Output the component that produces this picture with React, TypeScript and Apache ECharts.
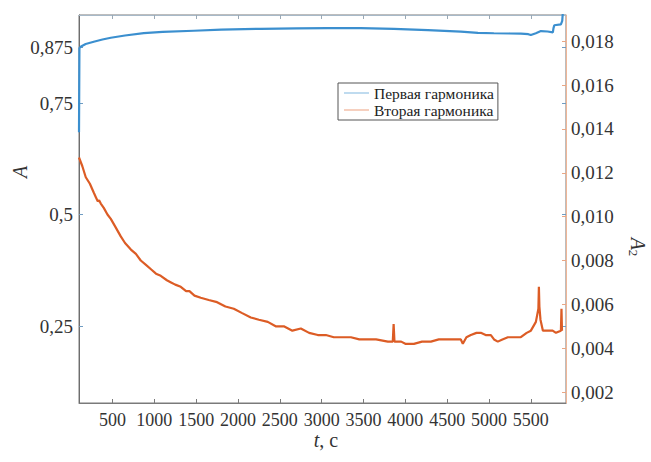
import React, { useEffect, useRef } from "react";
import * as echarts from "echarts";

// First harmonic A (left axis)
const blueT = [100, 105, 130, 180, 276, 380, 480, 650, 874, 1100, 1472, 1800, 2273, 2700, 3074, 3468, 3862, 4269, 4663, 4867, 5058, 5250, 5381, 5470, 5500, 5560, 5620, 5700, 5763, 5770, 5780, 5859, 5875, 5885];
const blueA = [0.685, 0.874, 0.878, 0.883, 0.888, 0.893, 0.897, 0.902, 0.9075, 0.91, 0.9127, 0.915, 0.917, 0.918, 0.9187, 0.9187, 0.917, 0.914, 0.9105, 0.908, 0.907, 0.9065, 0.906, 0.905, 0.903, 0.907, 0.912, 0.911, 0.909, 0.918, 0.925, 0.927, 0.935, 0.96];

// Second harmonic A2 (right axis)
const orangeT = [100, 140, 181, 230, 276, 300, 324, 340, 360, 396, 440, 480, 540, 599, 650, 720, 780, 838, 900, 960, 1020, 1077, 1150, 1200, 1250, 1316, 1380, 1420, 1480, 1555, 1650, 1750, 1850, 1950, 2050, 2153, 2250, 2356, 2450, 2548, 2650, 2751, 2850, 2954, 3050, 3145, 3250, 3349, 3450, 3552, 3650, 3791, 3850, 3860, 3870, 3950, 4000, 4102, 4200, 4305, 4400, 4508, 4600, 4663, 4687, 4730, 4783, 4850, 4902, 4960, 5022, 5060, 5105, 5160, 5225, 5300, 5380, 5450, 5500, 5545, 5560, 5590, 5596, 5602, 5615, 5644, 5704, 5760, 5800, 5859, 5866, 5872];
const orangeA2 = [0.0127, 0.0123, 0.0118, 0.0115, 0.0111, 0.0109, 0.0107, 0.01075, 0.0106, 0.0104, 0.0101, 0.0099, 0.0095, 0.0091, 0.0088, 0.0085, 0.0083, 0.008, 0.0078, 0.0076, 0.0074, 0.0073, 0.0071, 0.007, 0.0069, 0.0068, 0.0066, 0.0066, 0.0064, 0.0063, 0.0062, 0.0061, 0.0059, 0.0058, 0.0056, 0.0054, 0.0053, 0.0052, 0.005, 0.005, 0.0048, 0.0049, 0.0047, 0.0046, 0.0046, 0.0045, 0.0045, 0.0045, 0.0044, 0.0044, 0.0044, 0.0043, 0.0043, 0.0051, 0.0043, 0.0043, 0.0042, 0.0042, 0.0043, 0.0043, 0.0044, 0.0044, 0.0044, 0.0044, 0.0042, 0.0045, 0.0046, 0.0047, 0.0047, 0.0046, 0.0046, 0.0044, 0.0043, 0.0044, 0.0045, 0.0045, 0.0045, 0.0047, 0.0048, 0.0051, 0.0052, 0.0058, 0.0068, 0.0059, 0.0053, 0.0048, 0.0048, 0.0048, 0.0047, 0.0048, 0.0058, 0.0048];

const xTicks = [500, 1000, 1500, 2000, 2500, 3000, 3500, 4000, 4500, 5000, 5500];
const leftTicks = [0.25, 0.5, 0.75, 0.875];
const rightTicks = [0.002, 0.004, 0.006, 0.008, 0.01, 0.012, 0.014, 0.016, 0.018];
const seriesNames = ["Первая гармоника", "Вторая гармоника"];

const FONT = "'Liberation Serif', 'Times New Roman', serif";
const LEFT_MIN = 0.0774;
const LEFT_MAX = 0.948;

export default function App() {
  const ref = useRef<HTMLDivElement>(null);
  useEffect(() => {
    if (!ref.current) return;
    const chart = echarts.init(ref.current, null, { renderer: "svg" });
    const blueData = blueT.map((t, i) => [t, blueA[i]]);
    const orangeData = orangeT.map((t, i) => [t, orangeA2[i]]);
    chart.setOption({
      animation: false,
      backgroundColor: "#fff",
      textStyle: { fontFamily: FONT },
      grid: {
        left: 79,
        right: 85,
        top: 15,
        bottom: 59,
        containLabel: false,
        show: true,
        borderColor: "#7a7a7a",
        borderWidth: 1,
        backgroundColor: "transparent",
      },
      legend: {
        orient: "vertical",
        left: 338,
        top: 83,
        padding: [2, 4, 2, 6],
        itemGap: 1,
        itemWidth: 25,
        itemHeight: 1,
        icon: "rect",
        borderColor: "#555",
        borderWidth: 1,
        backgroundColor: "#fff",
        textStyle: { fontFamily: FONT, fontSize: 15.5, color: "#222", lineHeight: 15 },
        data: [
          { name: seriesNames[0], itemStyle: { color: "#7fb6df" } },
          { name: seriesNames[1], itemStyle: { color: "#eda07e" } },
        ],
      },
      xAxis: [
        {
          type: "value",
          min: 100,
          max: 5920,
          position: "bottom",
          axisLine: { show: true, onZero: false, lineStyle: { color: "#7a7a7a", width: 1 } },
          axisTick: { show: true, inside: true, length: 4, customValues: xTicks, lineStyle: { color: "#7a7a7a" } },
          axisLabel: { customValues: xTicks, fontFamily: FONT, fontSize: 18, color: "#333", margin: 8, formatter: (v: number) => String(v) },
          splitLine: { show: false },
        },
        {
          type: "value",
          min: 100,
          max: 5920,
          position: "top",
          axisLine: { show: true, onZero: false, lineStyle: { color: "#a7b9c8", width: 1 } },
          axisTick: { show: true, inside: true, length: 4, customValues: xTicks, lineStyle: { color: "#9aa9b6" } },
          axisLabel: { show: false },
          splitLine: { show: false },
        },
      ],
      yAxis: [
        {
          type: "value",
          min: LEFT_MIN,
          max: LEFT_MAX,
          position: "left",
          axisLine: { show: true, onZero: false, lineStyle: { color: "#6e6e6e", width: 1 } },
          axisTick: { show: true, inside: true, length: 4, customValues: leftTicks, lineStyle: { color: "#6f9cc2" } },
          axisLabel: { customValues: leftTicks, fontFamily: FONT, fontSize: 19, color: "#333", margin: 6, formatter: (v: number) => String(v).replace(".", ",") },
          splitLine: { show: false },
        },
        {
          type: "value",
          min: 0.0015,
          max: 0.0192,
          position: "right",
          axisLine: { show: true, onZero: false, lineStyle: { color: "#efb697", width: 1 } },
          axisTick: { show: true, inside: true, length: 4, customValues: rightTicks, lineStyle: { color: "#e9a684" } },
          axisLabel: { customValues: rightTicks, fontFamily: FONT, fontSize: 19, color: "#333", margin: 5, formatter: (v: number) => v.toFixed(3).replace(".", ",") },
          splitLine: { show: false },
        },
        {
          type: "value",
          min: LEFT_MIN,
          max: LEFT_MAX,
          position: "right",
          offset: 0,
          axisLine: { show: false, onZero: false },
          axisTick: { show: true, inside: true, length: 4, customValues: leftTicks, lineStyle: { color: "#6f9cc2" } },
          axisLabel: { show: false },
          splitLine: { show: false },
        },
      ],
      series: [
        {
          name: seriesNames[0],
          type: "line",
          xAxisIndex: 0,
          yAxisIndex: 0,
          data: blueData,
          showSymbol: false,
          symbol: "none",
          clip: true,
          color: "#3b8fcf",
          lineStyle: { color: "#3b8fcf", width: 2.2 },
        },
        {
          name: seriesNames[1],
          type: "line",
          xAxisIndex: 0,
          yAxisIndex: 1,
          data: orangeData,
          showSymbol: false,
          symbol: "none",
          clip: true,
          color: "#dc5c25",
          lineStyle: { color: "#dc5c25", width: 2.2 },
        },
      ],
      graphic: [
        {
          type: "text",
          x: 20,
          y: 172,
          rotation: Math.PI / 2,
          style: {
            text: "A",
            font: `italic 20px ${FONT}`,
            fill: "#333",
            align: "center",
            verticalAlign: "middle",
            textAlign: "center",
            textVerticalAlign: "middle",
          },
        },
        {
          type: "text",
          x: 638,
          y: 247,
          rotation: -Math.PI / 2,
          style: {
            text: "{a|A}{s|2}",
            fill: "#333",
            align: "center",
            verticalAlign: "middle",
            textAlign: "center",
            textVerticalAlign: "middle",
            rich: {
              a: { fontFamily: FONT, fontStyle: "italic", fontSize: 20, lineHeight: 22, fill: "#333", color: "#333" },
              s: { fontFamily: FONT, fontSize: 13, lineHeight: 13, verticalAlign: "bottom", fill: "#333", color: "#333" },
            },
          },
        },
        {
          type: "text",
          x: 326,
          y: 440,
          style: {
            text: "{i|t}{n|, с}",
            fill: "#333",
            align: "center",
            verticalAlign: "middle",
            textAlign: "center",
            textVerticalAlign: "middle",
            rich: {
              i: { fontFamily: FONT, fontStyle: "italic", fontSize: 20, fill: "#333", color: "#333" },
              n: { fontFamily: FONT, fontSize: 20, fill: "#333", color: "#333" },
            },
          },
        },
      ],
    });
    return () => chart.dispose();
  }, []);
  return (
    <div
      ref={ref}
      style={{ position: "fixed", left: 0, top: 0, width: 651, height: 462, background: "#fff" }}
    />
  );
}
